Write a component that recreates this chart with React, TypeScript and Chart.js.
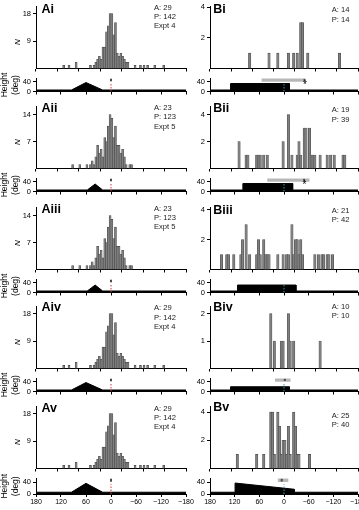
import React, { useEffect, useRef } from 'react';
import { Chart, registerables } from 'chart.js';

Chart.register(...registerables);

const FONT = "'Liberation Sans', Arial, Helvetica, sans-serif";
Chart.defaults.font.family = FONT;
Chart.defaults.font.size = 7;
Chart.defaults.color = '#000';

// ---------- data ----------
const X_TICKS = [180, 120, 60, 0, -60, -120, -180];
const HEIGHT_TICKS = [0, 40];

// Expt 4 histogram (Ai, Aiv, Av)
const EXPT4_ANGLES = [132.5, 117.5, 97.5, 57.5, 47.5, 42.5, 37.5, 32.5, 27.5, 22.5, 17.5, 12.5, 7.5, 2.5, -2.5, -7.5, -12.5, -17.5, -22.5, -27.5, -32.5, -37.5, -42.5, -47.5, -67.5, -82.5, -92.5, -102.5, -122.5, -147.5];
const EXPT4_COUNTS = [1, 1, 2, 1, 1, 2, 3, 4, 3, 7, 7, 12, 14, 18, 18, 11, 15, 5, 4, 5, 4, 3, 2, 2, 1, 1, 1, 1, 1, 1];
// Expt 5 histogram (Aii, Aiii)
const EXPT5_ANGLES = [107.5, 87.5, 67.5, 57.5, 52.5, 47.5, 42.5, 37.5, 32.5, 27.5, 22.5, 17.5, 12.5, 7.5, 2.5, -2.5, -7.5, -12.5, -17.5, -22.5, -27.5, -32.5, -37.5, -42.5, -52.5, -57.5];
const EXPT5_COUNTS = [1, 1, 1, 1, 2, 1, 3, 6, 4, 5, 3, 8, 7, 11, 14, 13, 8, 11, 6, 6, 4, 5, 3, 1, 1, 1];
// B histograms
const BI_ANGLES = [97.5, 42.5, 17.5, -12.5, -27.5, -37.5, -47.5, -52.5, -67.5, -157.5];
const BI_COUNTS = [1, 1, 1, 1, 1, 1, 3, 3, 1, 1];
const BII_ANGLES = [127.5, 107.5, 102.5, 77.5, 72.5, 67.5, 57.5, 47.5, 2.5, -12.5, -22.5, -37.5, -42.5, -47.5, -57.5, -62.5, -72.5, -77.5, -82.5, -87.5, -102.5, -122.5, -132.5, -142.5, -167.5, -172.5];
const BII_COUNTS = [2, 1, 1, 1, 1, 1, 1, 1, 2, 4, 1, 1, 2, 1, 3, 3, 3, 1, 1, 1, 1, 1, 1, 1, 1, 1];
const BIII_ANGLES = [177.5, 162.5, 157.5, 142.5, 122.5, 117.5, 107.5, 97.5, 77.5, 72.5, 67.5, 57.5, 52.5, 47.5, 42.5, 17.5, 2.5, -7.5, -12.5, -22.5, -27.5, -32.5, -37.5, -42.5, -47.5, -52.5, -87.5, -97.5, -107.5, -112.5, -122.5, -127.5, -137.5];
const BIII_COUNTS = [1, 1, 1, 1, 1, 2, 3, 1, 1, 2, 1, 2, 1, 1, 1, 1, 1, 1, 1, 3, 1, 2, 2, 1, 2, 1, 1, 1, 1, 1, 1, 1, 1];
const BIV_ANGLES = [37.5, 27.5, 7.5, 2.5, -12.5, -17.5, -27.5, -102.5];
const BIV_COUNTS = [2, 1, 1, 1, 2, 1, 1, 1];
const BV_ANGLES = [132.5, 77.5, 57.5, 37.5, 32.5, 27.5, 17.5, 12.5, 7.5, 2.5, -2.5, -7.5, -12.5, -17.5, -27.5, -32.5, -37.5, -42.5, -72.5];
const BV_COUNTS = [1, 1, 1, 4, 4, 1, 4, 3, 1, 2, 2, 1, 3, 1, 4, 3, 1, 1, 1];

// height profiles (deg)
const PROFILE4_X = [180, 95, 60, 20, -180];
const PROFILE4_Y = [6, 6, 36, 6, 6];
const PROFILE5_X = [180, 57, 38, 20, -180];
const PROFILE5_Y = [6, 6, 30, 6, 6];
const BI_PROFILE_X = [180, 130, 130, -13, -13, -180];
const BI_PROFILE_Y = [6, 6, 32, 32, 6, 6];
const BII_PROFILE_X = [180, 100, 100, -21, -21, -180];
const BII_PROFILE_Y = [6, 6, 32, 32, 6, 6];
const BIII_PROFILE_X = [180, 113, 113, -29, -29, -180];
const BIII_PROFILE_Y = [6, 6, 30, 30, 6, 6];
const BIV_PROFILE_X = [180, 130, 130, -13, -13, -180];
const BIV_PROFILE_Y = [6, 6, 19, 19, 6, 6];
const BV_PROFILE_X = [180, 119, 119, -25, -25, -180];
const BV_PROFILE_Y = [6, 6, 37, 16, 6, 6];

// response range (grey bar) and median (dark tick)
const A_RANGE = [2.5, -2.5];
const A_MEDIAN = 0;
const BI_RANGE = [54.5, -51];
const BI_MEDIAN = -50;
const BII_RANGE = [40.7, -62];
const BII_MEDIAN = -49;
const BIV_RANGE = [22, -16];
const BIV_MEDIAN = -2;
const BV_RANGE = [15, -10.5];
const BV_MEDIAN = 5.5;
const BI_STAR = -51;
const BII_STAR = -49.5;

// ---------- layout ----------
const ROW_TOP = [0, 100, 201, 300, 400];
const COLS: any = {
  A: { left: 0, width: 200, axisW: 36, padR: 14, dot: '#d8383e', labelX: 41.5, textX: 154, textLH: 9.3, barW: 2 },
  B: { left: 180, width: 200, axisW: 30, padR: 22, dot: '#2fa3b3', labelX: 213.3, textX: 331.7, textLH: 9.2, barW: 2.4 },
};

const fmt = (v: number) => (v < 0 ? '\u2212' + Math.abs(v) : String(v));
const pts = (xs: number[], ys: number[]) => xs.map((x, i) => ({ x, y: ys[i] }));

const starPlugin = {
  id: 'star',
  afterDatasetsDraw(chart: any, _a: any, opts: any) {
    if (opts == null || opts.x == null) return;
    const { ctx, scales } = chart;
    ctx.save();
    ctx.font = `10px ${FONT}`;
    ctx.textAlign = 'center';
    ctx.textBaseline = 'middle';
    ctx.fillStyle = '#000';
    ctx.fillText('*', scales.x.getPixelForValue(opts.x), scales.y.getPixelForValue(opts.y));
    ctx.restore();
  },
};

type PanelDef = {
  col: 'A' | 'B';
  row: number;
  label: string;
  text: string[];
  textY: number;
  labelY: number;
  angles: number[];
  counts: number[];
  yMax: number;
  yTicks: number[];
  profX: number[];
  profY: number[];
  range?: number[];
  median?: number;
  star?: number;
};

const PANELS: PanelDef[] = [
  { col: 'A', row: 0, label: 'Ai', text: ['A: 29', 'P: 142', 'Expt 4'], textY: 7.4, labelY: 9.3, angles: EXPT4_ANGLES, counts: EXPT4_COUNTS, yMax: 20.3, yTicks: [9, 18], profX: PROFILE4_X, profY: PROFILE4_Y, range: A_RANGE, median: A_MEDIAN },
  { col: 'A', row: 1, label: 'Aii', text: ['A: 23', 'P: 123', 'Expt 5'], textY: 7.8, labelY: 8, angles: EXPT5_ANGLES, counts: EXPT5_COUNTS, yMax: 16.1, yTicks: [7, 14], profX: PROFILE5_X, profY: PROFILE5_Y, range: A_RANGE, median: A_MEDIAN },
  { col: 'A', row: 2, label: 'Aiii', text: ['A: 23', 'P: 123', 'Expt 5'], textY: 7.3, labelY: 7.5, angles: EXPT5_ANGLES, counts: EXPT5_COUNTS, yMax: 16.1, yTicks: [7, 14], profX: PROFILE5_X, profY: PROFILE5_Y, range: A_RANGE, median: A_MEDIAN },
  { col: 'A', row: 3, label: 'Aiv', text: ['A: 29', 'P: 142', 'Expt 4'], textY: 8, labelY: 6.7, angles: EXPT4_ANGLES, counts: EXPT4_COUNTS, yMax: 20.3, yTicks: [9, 18], profX: PROFILE4_X, profY: PROFILE4_Y, range: A_RANGE, median: A_MEDIAN },
  { col: 'A', row: 4, label: 'Av', text: ['A: 29', 'P: 142', 'Expt 4'], textY: 8.3, labelY: 8, angles: EXPT4_ANGLES, counts: EXPT4_COUNTS, yMax: 20.3, yTicks: [9, 18], profX: PROFILE4_X, profY: PROFILE4_Y, range: A_RANGE, median: A_MEDIAN },
  { col: 'B', row: 0, label: 'Bi', text: ['A: 14', 'P: 14'], textY: 10, labelY: 9.3, angles: BI_ANGLES, counts: BI_COUNTS, yMax: 4.04, yTicks: [2, 4], profX: BI_PROFILE_X, profY: BI_PROFILE_Y, range: BI_RANGE, median: BI_MEDIAN, star: BI_STAR },
  { col: 'B', row: 1, label: 'Bii', text: ['A: 19', 'P: 39'], textY: 10, labelY: 8, angles: BII_ANGLES, counts: BII_COUNTS, yMax: 4.6, yTicks: [2, 4], profX: BII_PROFILE_X, profY: BII_PROFILE_Y, range: BII_RANGE, median: BII_MEDIAN, star: BII_STAR },
  { col: 'B', row: 2, label: 'Biii', text: ['A: 21', 'P: 42'], textY: 9.5, labelY: 9, angles: BIII_ANGLES, counts: BIII_COUNTS, yMax: 4.15, yTicks: [2, 4], profX: BIII_PROFILE_X, profY: BIII_PROFILE_Y },
  { col: 'B', row: 3, label: 'Biv', text: ['A: 10', 'P: 10'], textY: 6.5, labelY: 6.5, angles: BIV_ANGLES, counts: BIV_COUNTS, yMax: 2.26, yTicks: [1, 2], profX: BIV_PROFILE_X, profY: BIV_PROFILE_Y, range: BIV_RANGE, median: BIV_MEDIAN },
  { col: 'B', row: 4, label: 'Bv', text: ['A: 25', 'P: 40'], textY: 15.5, labelY: 6.5, angles: BV_ANGLES, counts: BV_COUNTS, yMax: 4.4, yTicks: [2, 4], profX: BV_PROFILE_X, profY: BV_PROFILE_Y, range: BV_RANGE, median: BV_MEDIAN },
];

const axisBase = {
  grid: { drawOnChartArea: false, tickLength: 3, color: '#000', lineWidth: 1 },
  border: { color: '#000', width: 1 },
};

function histConfig(p: PanelDef): any {
  const c = COLS[p.col];
  return {
    type: 'bar',
    data: {
      datasets: [
        {
          data: pts(p.angles, p.counts),
          backgroundColor: '#808080',
          borderColor: '#4a4a4a',
          borderWidth: 0.6,
          barThickness: c.barW,
        },
      ],
    },
    options: {
      animation: false,
      responsive: false,
      events: [],
      layout: { padding: { left: 0, right: c.padR, top: 5, bottom: 0 } },
      plugins: { legend: { display: false }, tooltip: { enabled: false } },
      scales: {
        x: {
          type: 'linear',
          min: -180,
          max: 180,
          reverse: true,
          afterBuildTicks: (s: any) => { s.ticks = X_TICKS.map((v) => ({ value: v })); },
          afterFit: (s: any) => { s.height = 4; },
          ticks: { display: false },
          ...axisBase,
        },
        y: {
          min: 0,
          max: p.yMax,
          afterBuildTicks: (s: any) => { s.ticks = p.yTicks.map((v) => ({ value: v })); },
          afterFit: (s: any) => { s.width = c.axisW; },
          ticks: { padding: 2, font: { size: 7.5 } },
          ...axisBase,
        },
      },
    },
  };
}

function heightConfig(p: PanelDef): any {
  const c = COLS[p.col];
  const last = p.row === 4;
  const datasets: any[] = [
    {
      data: pts([0, 0], [0, 33]),
      borderColor: c.dot,
      borderWidth: 1,
      borderDash: [1.5, 1.5],
      pointRadius: 0,
      fill: false,
    },
  ];
  if (p.median != null) {
    datasets.push({
      data: pts([p.median, p.median], [42.5, 51.5]),
      borderColor: '#4a4a4a',
      borderWidth: 2,
      pointRadius: 0,
      fill: false,
    });
  }
  if (p.range) {
    datasets.push({
      data: pts(p.range, [47, 47]),
      borderColor: '#b8b8b8',
      borderWidth: 4,
      borderCapStyle: 'butt',
      pointRadius: 0,
      fill: false,
    });
  }
  datasets.push({
    data: pts(p.profX, p.profY),
    borderColor: '#000',
    backgroundColor: '#000',
    borderWidth: 1,
    pointRadius: 0,
    tension: 0,
    fill: 'origin',
  });
  return {
    type: 'line',
    data: { datasets },
    plugins: [starPlugin],
    options: {
      animation: false,
      responsive: false,
      events: [],
      layout: { padding: { left: 0, right: c.padR, top: 2, bottom: 0 } },
      plugins: {
        legend: { display: false },
        tooltip: { enabled: false },
        star: p.star != null ? { x: p.star, y: 26 } : {},
      },
      scales: {
        x: {
          type: 'linear',
          min: -180,
          max: 180,
          reverse: true,
          afterBuildTicks: (s: any) => { s.ticks = X_TICKS.map((v) => ({ value: v })); },
          afterFit: (s: any) => { s.height = last ? 16 : 4; },
          ticks: { display: last, padding: 1, font: { size: 7 }, callback: (v: any) => fmt(Number(v)), maxRotation: 0, autoSkip: false },
          ...axisBase,
        },
        y: {
          min: 0,
          max: 52.3,
          afterBuildTicks: (s: any) => { s.ticks = HEIGHT_TICKS.map((v) => ({ value: v })); },
          afterFit: (s: any) => { s.width = c.axisW; },
          ticks: { padding: 2, font: { size: 7.5 } },
          title: p.col === 'A'
            ? { display: true, text: ['Height', '(deg)'], font: { size: 8.5 }, padding: { top: 0, bottom: 0 }, color: '#000' }
            : { display: false },
          ...axisBase,
        },
      },
    },
  };
}

function ChartCanvas({ left, top, width, height, config }: any) {
  const ref = useRef<HTMLCanvasElement>(null);
  useEffect(() => {
    const chart = new Chart(ref.current as HTMLCanvasElement, config);
    return () => chart.destroy();
  }, []);
  return (
    <canvas
      ref={ref}
      width={width}
      height={height}
      style={{ position: 'absolute', left, top, width, height }}
    />
  );
}

function Panel({ p }: { p: PanelDef }) {
  const c = COLS[p.col];
  const top = ROW_TOP[p.row];
  const last = p.row === 4;
  return (
    <>
      <ChartCanvas left={c.left} top={top} width={c.width} height={75} config={histConfig(p)} />
      <ChartCanvas left={c.left} top={top + 72} width={c.width} height={last ? 38 : 26} config={heightConfig(p)} />
      <div
        style={{
          position: 'absolute',
          left: c.labelX,
          top: top + p.labelY - 7,
          font: `bold 12.5px ${FONT}`,
          lineHeight: '14px',
          color: '#000',
          whiteSpace: 'nowrap',
        }}
      >
        {p.label}
      </div>
      <div
        style={{
          position: 'absolute',
          left: c.textX,
          top: top + p.textY - c.textLH / 2,
          font: `7.6px ${FONT}`,
          lineHeight: `${c.textLH}px`,
          color: '#222',
          whiteSpace: 'nowrap',
        }}
      >
        {p.text.map((t, i) => (
          <div key={i}>{t}</div>
        ))}
      </div>
      {p.col === 'A' && (
        <div
          style={{
            position: 'absolute',
            left: 17,
            top: top + 42,
            transform: 'translate(-50%, -50%) rotate(-90deg)',
            font: `italic 8px ${FONT}`,
            lineHeight: '9px',
            color: '#000',
          }}
        >
          N
        </div>
      )}
    </>
  );
}

export default function App() {
  return (
    <div
      style={{
        position: 'absolute',
        left: 0,
        top: 0,
        width: 359,
        height: 510,
        overflow: 'hidden',
        background: '#fff',
      }}
    >
      {PANELS.map((p) => (
        <Panel key={p.label} p={p} />
      ))}
    </div>
  );
}
